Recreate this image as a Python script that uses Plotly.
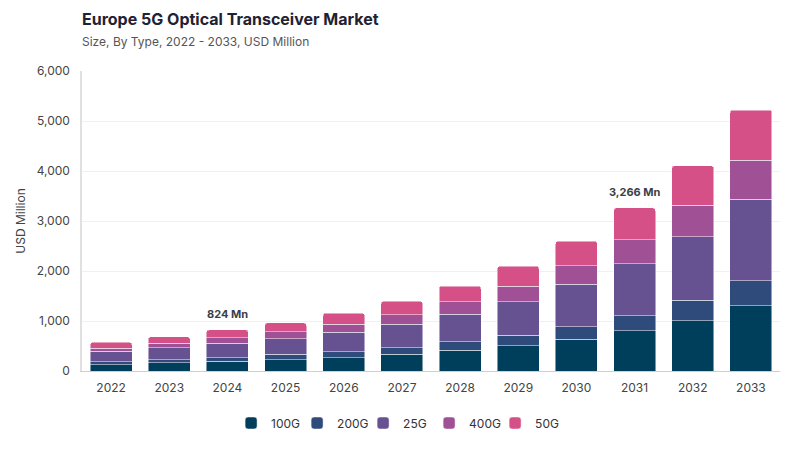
import plotly.graph_objects as go

# data (USD Million)
years = ["2022", "2023", "2024", "2025", "2026", "2027",
         "2028", "2029", "2030", "2031", "2032", "2033"]
g100 = [126, 166, 194, 226, 266, 334, 414, 506, 640, 806, 1006, 1306]
g200 = [60, 60, 72, 108, 120, 132, 172, 208, 246, 300, 408, 500]
g25 = [208, 240, 288, 312, 388, 468, 548, 672, 848, 1040, 1272, 1634]
g400 = [66, 94, 112, 140, 166, 192, 252, 314, 372, 480, 634, 780]
g50 = [114, 126, 158, 180, 214, 268, 314, 394, 494, 640, 788, 1000]
labelled_years = ["2024", "2031"]

series = [
    ("100G", g100, "#003f5c"),
    ("200G", g200, "#2f4b7c"),
    ("25G", g25, "#665191"),
    ("400G", g400, "#a05195"),
    ("50G", g50, "#d45087"),
]

font = "Inter, Lato, sans-serif"

fig = go.Figure()
for name, vals, col in series:
    fig.add_trace(go.Bar(
        x=years, y=vals, name=name,
        marker=dict(color=col, line=dict(color="rgba(255,255,255,0.6)", width=0.8)),
    ))

totals = [sum(v) for v in zip(g100, g200, g25, g400, g50)]
for i, (yr, tot) in enumerate(zip(years, totals)):
    if yr in labelled_years:
        # category axis: annotation x given as the category index
        fig.add_annotation(
            x=i, y=tot, text=f"<b>{tot:,} Mn</b>", showarrow=False,
            yanchor="bottom", yshift=7,
            font=dict(family=font, size=11, color="#3a3f4a"),
        )

# page body has an 8px margin, so the figure sits 8px right/down in the shot
fig.update_layout(
    barmode="stack",
    bargap=0.28,
    barcornerradius=3,
    width=800, height=450,
    margin=dict(l=74, r=28, t=63, b=87, autoexpand=False),
    paper_bgcolor="white", plot_bgcolor="white",
    font=dict(family=font, size=12, color="#444"),
    title=dict(
        text="<b>Europe 5G Optical Transceiver Market</b>"
             "<br><span style='font-size:12px;color:#555'>Size, By Type, 2022 - 2033, USD Million</span>",
        x=74 / 800, xanchor="left", y=0.962, yanchor="top",
        font=dict(family=font, size=16, color="#1e2233"),
    ),
    xaxis=dict(
        type="category", automargin=False,
        showline=True, linecolor="#cfcfcf", linewidth=1,
        ticks="outside", ticklen=6, tickcolor="white",
        tickfont=dict(size=12, color="#444"),
    ),
    yaxis=dict(
        range=[0, 6000], dtick=1000, tickformat=",", automargin=False,
        showgrid=True, gridcolor="#f0f0f0",
        showline=True, linecolor="#e0e0e0", linewidth=1.5,
        zeroline=False,
        ticks="outside", ticklen=8, tickcolor="white",
        tickfont=dict(size=12, color="#444"),
        title=dict(text="USD Million", font=dict(size=12, color="#444"), standoff=8),
    ),
    legend=dict(
        orientation="h", x=0.45, xanchor="center", y=-0.125, yanchor="top",
        traceorder="normal",
        font=dict(size=12, color="#333"), itemwidth=30,
        entrywidth=21, entrywidthmode="pixels",
    ),
    showlegend=True,
)

fig.write_html("out.html")
